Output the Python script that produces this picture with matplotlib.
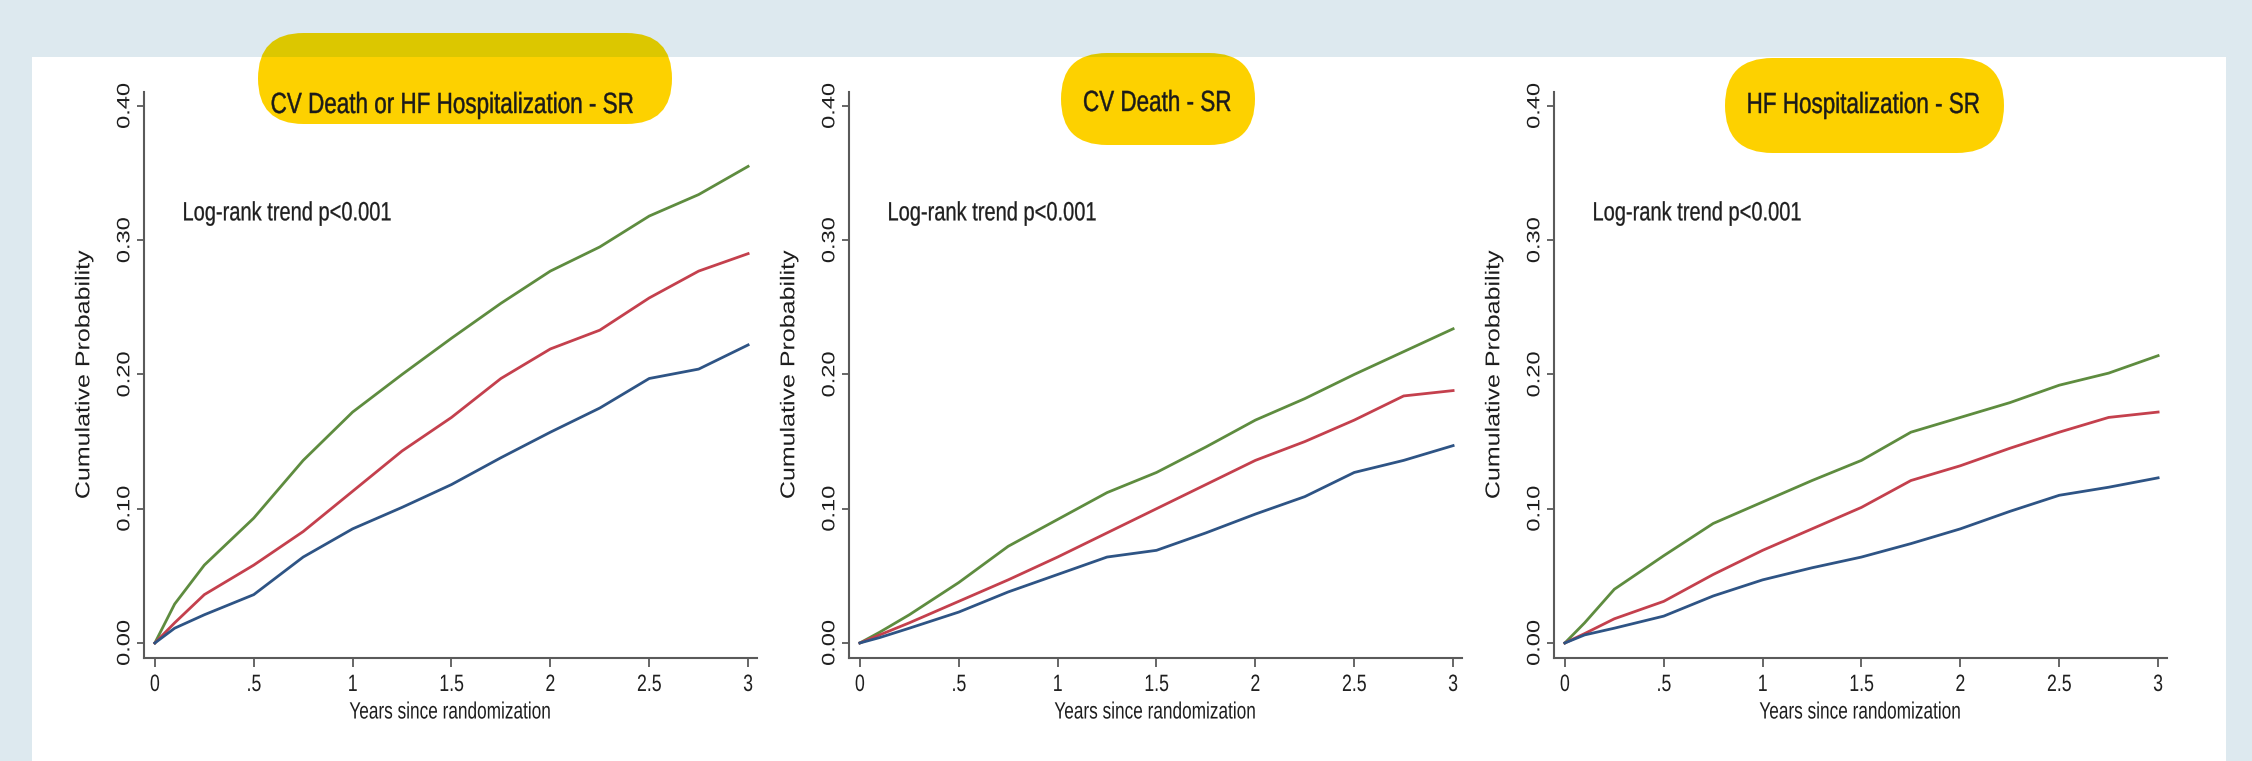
import matplotlib
matplotlib.use("Agg")
import matplotlib.pyplot as plt
from matplotlib.patches import Rectangle, FancyBboxPatch
from matplotlib.patheffects import AbstractPathEffect
from matplotlib.transforms import Affine2D, Bbox, IdentityTransform

# follow-up grid (years) and cumulative incidence for each tertile
years = [0, 0.1, 0.25, 0.5, 0.75, 1.0, 1.25, 1.5, 1.75, 2.0, 2.25, 2.5, 2.75, 3.0]

comp_green = [0, 0.029, 0.058, 0.093, 0.136, 0.172, 0.200, 0.227, 0.253, 0.277, 0.295, 0.318, 0.334, 0.355]
comp_red = [0, 0.015, 0.036, 0.058, 0.083, 0.113, 0.143, 0.168, 0.197, 0.219, 0.233, 0.257, 0.277, 0.290]
comp_blue = [0, 0.011, 0.021, 0.036, 0.064, 0.085, 0.101, 0.118, 0.138, 0.157, 0.175, 0.197, 0.204, 0.222]

cvd_green = [0, 0.008, 0.021, 0.045, 0.072, 0.092, 0.112, 0.127, 0.146, 0.166, 0.182, 0.200, 0.217, 0.234]
cvd_red = [0, 0.006, 0.015, 0.031, 0.047, 0.064, 0.082, 0.100, 0.118, 0.136, 0.150, 0.166, 0.184, 0.188]
cvd_blue = [0, 0.004, 0.011, 0.023, 0.038, 0.051, 0.064, 0.069, 0.082, 0.096, 0.109, 0.127, 0.136, 0.147]

hfh_green = [0, 0.015, 0.040, 0.065, 0.089, 0.105, 0.121, 0.136, 0.157, 0.168, 0.179, 0.192, 0.201, 0.214]
hfh_red = [0, 0.007, 0.018, 0.031, 0.051, 0.069, 0.085, 0.101, 0.121, 0.132, 0.145, 0.157, 0.168, 0.172]
hfh_blue = [0, 0.006, 0.011, 0.020, 0.035, 0.047, 0.056, 0.064, 0.074, 0.085, 0.098, 0.110, 0.116, 0.123]

titles = ["CV Death or HF Hospitalization - SR", "CV Death - SR", "HF Hospitalization - SR"]
panels = [
    (comp_green, comp_red, comp_blue),
    (cvd_green, cvd_red, cvd_blue),
    (hfh_green, hfh_red, hfh_blue),
]
pval_text = "Log-rank trend p<0.001"
xtick_vals = [0, 0.5, 1, 1.5, 2, 2.5, 3]
xtick_labels = ["0", ".5", "1", "1.5", "2", "2.5", "3"]
ytick_vals = [0, 0.1, 0.2, 0.3, 0.4]
ytick_labels = ["0.00", "0.10", "0.20", "0.30", "0.40"]


class Squeeze(AbstractPathEffect):
    """Draw text narrower than the font (x scaled around an anchor),
    optionally with a thin outline to thicken the strokes."""

    def __init__(self, sx=0.75, anchor="center", thick=0.0):
        super().__init__()
        self.sx = sx
        self.anchor = anchor
        self.thick = thick

    def draw_path(self, renderer, gc, tpath, affine, rgbFace=None):
        ext = tpath.get_extents(affine)
        if self.anchor == "left":
            cx = ext.x0
        elif self.anchor == "right":
            cx = ext.x1
        else:
            cx = 0.5 * (ext.x0 + ext.x1)
        sq = Affine2D().translate(-cx, 0).scale(self.sx, 1).translate(cx, 0)
        gc0 = renderer.new_gc()
        gc0.copy_properties(gc)
        if self.thick and rgbFace is not None:
            gc0.set_linewidth(self.thick)
            gc0.set_foreground(rgbFace)
        renderer.draw_path(gc0, tpath, affine + sq, rgbFace)
        gc0.restore()


W, H = 2252, 761
FONT = ["Liberation Sans", "DejaVu Sans"]
line_cols = ["#5e8c3f", "#c4404d", "#2e5485"]
txt_col = "#1e1e1e"

fig = plt.figure(figsize=(W / 100, H / 100), dpi=100)
fig.patch.set_facecolor("#dde9ef")

# white card behind the three plots
fig.add_artist(Rectangle((32 / W, 0), (2226 - 32) / W, 1 - 57 / H,
                         transform=fig.transFigure, facecolor="white",
                         edgecolor="none", zorder=-3))

# pill boxes (x0, y0, x1, y1 in pixels from top-left) and title centres
pills = [(258, 33, 672, 124), (1061, 53, 1255, 145), (1725, 58, 2004, 153)]
title_pos = [(452, 105), (1157, 103), (1863, 105)]
card_top = H - 57

for (x0, y0, x1, y1) in pills:
    w, h = x1 - x0, y1 - y0
    # the part over the blue margin is a darker yellow
    for col, clip in [("#dcc700", Bbox([[0, card_top], [W, H]])),
                      ("#fdd100", Bbox([[0, 0], [W, card_top]]))]:
        p = FancyBboxPatch((x0, H - y1), w, h,
                           boxstyle=f"round,pad=0,rounding_size={h / 2}",
                           transform=IdentityTransform(), facecolor=col,
                           edgecolor="none", zorder=-2)
        fig.add_artist(p)
        p.set_clip_box(clip)

for t, (cx, cy) in zip(titles, title_pos):
    fig.text(cx / W, 1 - cy / H, t, ha="center", va="center", fontsize=21,
             family=FONT, color="#1a1a1a", zorder=5,
             path_effects=[Squeeze(0.77, thick=0.3)])

axis_lefts = [144, 849, 1554]
xlim = (-0.055, 3.045)
ylim = (-0.0112, 0.4104)

for left, curves in zip(axis_lefts, panels):
    ax = fig.add_axes([left / W, (H - 658) / H, 613 / W, 566 / H])
    ax.patch.set_visible(False)
    for ys, c in zip(curves, line_cols):
        ax.plot(years, ys, color=c, lw=2.0, solid_joinstyle="round")
    ax.set_xlim(*xlim)
    ax.set_ylim(*ylim)
    for s in ["top", "right"]:
        ax.spines[s].set_visible(False)
    for s in ["left", "bottom"]:
        ax.spines[s].set_color("#5a5a5a")
        ax.spines[s].set_linewidth(1.5)

    ax.set_xticks(xtick_vals)
    ax.set_xticklabels(xtick_labels, family=FONT, fontsize=17, color=txt_col)
    ax.set_yticks(ytick_vals)
    ax.set_yticklabels(ytick_labels, family=FONT, fontsize=17, color=txt_col,
                       rotation=90, va="center")
    for lbl in ax.get_xticklabels():
        lbl.set_path_effects([Squeeze(0.75)])
    for lbl in ax.get_yticklabels():
        lbl.set_path_effects([Squeeze(0.76, "right")])
    ax.tick_params(axis="x", direction="out", length=6.5, width=1.3,
                   color="#5a5a5a", pad=5)
    ax.tick_params(axis="y", direction="out", length=5, width=1.3,
                   color="#5a5a5a", pad=2)

    ax.set_xlabel("Years since randomization", family=FONT, fontsize=17,
                  color=txt_col, labelpad=4,
                  path_effects=[Squeeze(0.73)])
    ax.set_ylabel("Cumulative Probability", family=FONT, fontsize=18,
                  color=txt_col, labelpad=12,
                  path_effects=[Squeeze(0.80)])

    ax.text(0.137, 0.320, pval_text, family=FONT, fontsize=19,
            color=txt_col, va="center", ha="left",
            path_effects=[Squeeze(0.76, "left", thick=0.2)])

fig.savefig("out.png", dpi=100, facecolor=fig.get_facecolor())
